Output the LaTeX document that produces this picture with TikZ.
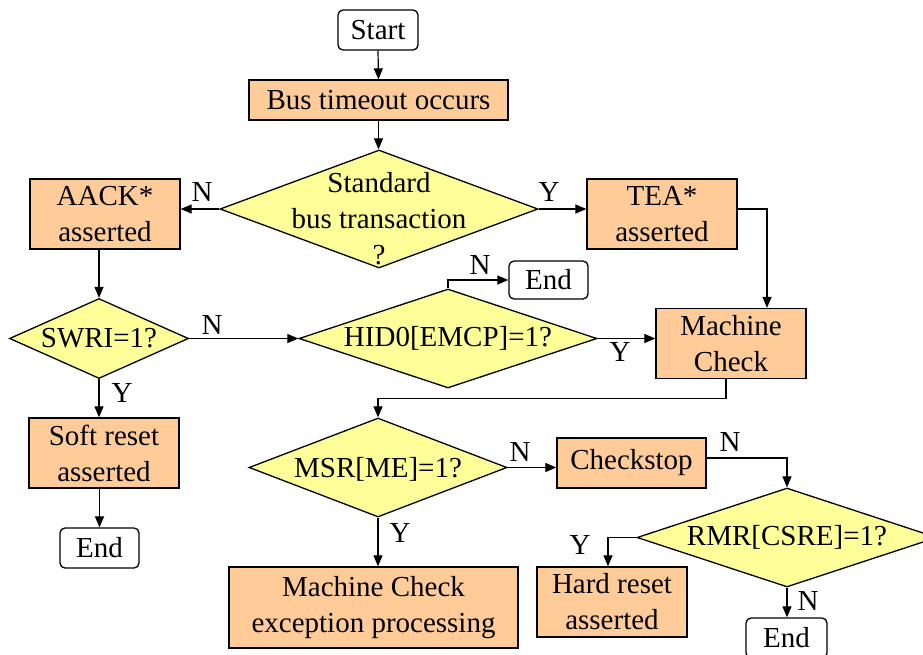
\documentclass[tikz,border=0pt]{standalone}
\usepackage{fontspec}
\setmainfont{Liberation Serif}
\newfontfamily\tms{Liberation Serif}
\usetikzlibrary{shapes.geometric,arrows.meta}
\definecolor{peach}{RGB}{255,204,153}
\definecolor{lemon}{RGB}{255,255,153}
\tikzset{
  base/.style={font=\tms\fontsize{29}{36}\selectfont, inner sep=0pt, line width=1.3pt},
  procbox/.style={base, draw, fill=peach, rectangle, align=center},
  termbox/.style={base, draw, fill=white, rectangle, rounded corners=5pt, align=center},
  decis/.style={base, draw, fill=lemon, diamond},
  arr/.style={line width=1.2pt, -{Triangle[length=11pt,width=9pt]}},
  lbl/.style={font=\tms\fontsize{29}{36}\selectfont, inner sep=0pt}
}
\begin{document}
\begin{tikzpicture}[x=1pt,y=-1pt]
\useasboundingbox (0,0) rectangle (923,654);
% nodes
\node[termbox, minimum width=80pt, minimum height=40pt] (start) at (378,30) {Start};
\node[procbox, minimum width=259pt, minimum height=40pt] (bus) at (378.5,100) {Bus timeout occurs};
\node[decis, minimum width=318pt, minimum height=118pt,
      label={[lbl, align=center, yshift=-10pt]center:Standard\\bus transaction\\?}] (std) at (379,209) {};
\node[procbox, minimum width=150pt, minimum height=70pt] (aack) at (105,214) {AACK*\\asserted};
\node[procbox, minimum width=150pt, minimum height=70pt] (tea) at (662,214) {TEA*\\asserted};
\node[procbox, minimum width=150pt, minimum height=70pt] (mc) at (731,343.5) {Machine\\Check};
\node[decis, minimum width=179pt, minimum height=80pt,
      label={[lbl]center:SWRI=1?}] (swri) at (99,338.5) {};
\node[decis, minimum width=298pt, minimum height=99pt,
      label={[lbl]center:HID0[EMCP]=1?}] (hid) at (448,338.5) {};
\node[termbox, minimum width=79pt, minimum height=38pt] (end1) at (548.5,280) {End};
\node[decis, minimum width=258pt, minimum height=99pt,
      label={[lbl, yshift=-2pt]center:MSR[ME]=1?}] (msr) at (378,467.5) {};
\node[procbox, minimum width=149pt, minimum height=50pt] (chk) at (631.5,463) {Checkstop};
\node[decis, minimum width=300pt, minimum height=99pt,
      label={[lbl]center:RMR[CSRE]=1?}] (rmr) at (787,537.5) {};
\node[procbox, minimum width=150pt, minimum height=70pt] (hard) at (612,602) {Hard reset\\asserted};
\node[termbox, minimum width=81pt, minimum height=40pt] (end3) at (786.5,638) {End};
\node[procbox, minimum width=289pt, minimum height=81pt] (mce) at (373.5,607.5) {Machine Check\\exception processing};
\node[procbox, minimum width=150pt, minimum height=70pt] (soft) at (104,453) {Soft reset\\asserted};
\node[termbox, minimum width=79pt, minimum height=40pt] (end2) at (99.5,548) {End};
% connectors
\draw[arr] (start.south) -- (bus.north);
\draw[arr] (bus.south) -- (std.north -| bus.south);
\draw[arr] (std.west) -- (std.west -| aack.east);
\draw[arr] (std.east) -- (std.east -| tea.west);
\draw[arr] (std.east -| tea.east) -| ([xshift=36pt]mc.north);
\draw[arr] (swri.north |- aack.south) -- (swri.north);
\draw[arr] (swri.east) -- (hid.west);
\draw[arr] (hid.east) -- (hid.east -| mc.west);
\draw[arr] (hid.north) |- (end1.west);
\draw[arr] ([xshift=-5pt]mc.south) -- ++(0,19) -| (msr.north);
\draw[arr] (swri.south) -- (swri.south |- soft.north);
\draw[arr] (end2.north |- soft.south) -- (end2.north);
\draw[arr] (msr.east) -- (msr.east -| chk.west);
\draw[arr] ([yshift=5pt]chk.east) -| (rmr.north);
\draw[arr] (rmr.west) -| ([xshift=-4pt]hard.north);
\draw[arr] (rmr.south) -- (end3.north -| rmr.south);
\draw[arr] (msr.south) -- (msr.south |- mce.north);
% branch labels
\node[lbl] (l1) at (202,192) {N};
\node[lbl] (l2) at (549,192) {Y};
\node[lbl] (l3) at (480,265) {N};
\node[lbl] (l4) at (212,325) {N};
\node[lbl] (l5) at (620,352) {Y};
\node[lbl] (l6) at (122,393) {Y};
\node[lbl] (l7) at (520,452) {N};
\node[lbl] (l8) at (730,442) {N};
\node[lbl] (l9) at (580,545) {Y};
\node[lbl] (l10) at (808,601) {N};
\node[lbl] (l11) at (400,533) {Y};
\end{tikzpicture}
\end{document}
